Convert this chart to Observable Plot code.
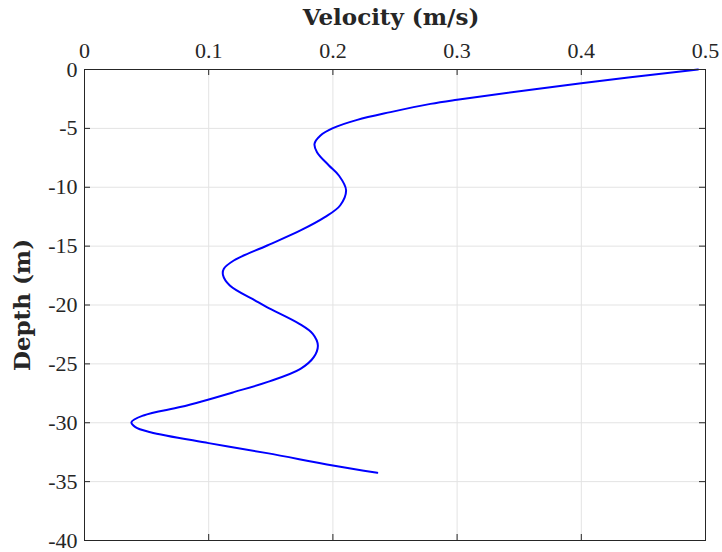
<!DOCTYPE html>
<html><head><meta charset="utf-8">
<script src="https://cdn.jsdelivr.net/npm/d3@7"></script>
<script src="https://cdn.jsdelivr.net/npm/@observablehq/plot@0.6"></script>
<style>body{margin:0;background:#fff}</style>
</head><body><div id="chart"></div>
<script>
const depth = [0, -1.16, -2.57, -2.92, -3.62, -4.28, -4.98, -5.6, -6.31, -7.02, -8.15, -9.0, -10.25, -11.55, -12.54, -13.67, -14.95, -16.22, -16.93, -17.45, -18.34, -19.62, -20.18, -21.6, -22.45, -23.44, -24.43, -25.42, -26.55, -27.4, -28.17, -28.67, -29.38, -29.95, -30.37, -30.8, -31.73, -32.58, -33.63, -34.25];
const velocity = [0.494, 0.4, 0.3, 0.2786, 0.2464, 0.2196, 0.2, 0.19, 0.1852, 0.1872, 0.1968, 0.2048, 0.2106, 0.2058, 0.1935, 0.1739, 0.1471, 0.1202, 0.1122, 0.1115, 0.117, 0.1375, 0.1468, 0.173, 0.1838, 0.1879, 0.1846, 0.1739, 0.147, 0.1202, 0.095, 0.077, 0.0475, 0.0378, 0.041, 0.0531, 0.1, 0.147, 0.2, 0.2357];
const xTicks = [0, 0.1, 0.2, 0.3, 0.4, 0.5];
const yTicks = [0, -5, -10, -15, -20, -25, -30, -35, -40];
const xLabel = "Velocity (m/s)";
const yLabel = "Depth (m)";

const data = depth.map((d, i) => ({d, v: velocity[i]}));
const W = 722, H = 552, mL = 84, mR = 17, mT = 69, mB = 12;
const fw = W - mL - mR, fh = H - mT - mB;
const ink = "#262626", grid = "#e3e3e3", tk = 6;
const font = "'Liberation Serif', 'Times New Roman', serif";
const labelFont = "'DejaVu Serif', serif";

const chart = Plot.plot({
  width: W, height: H,
  marginLeft: mL, marginRight: mR, marginTop: mT, marginBottom: mB,
  style: {fontFamily: font, fontSize: "22px", color: ink, background: "#fff"},
  x: {domain: [0, 0.5]},
  y: {domain: [-40, 0]},
  marks: [
    Plot.gridX(xTicks, {stroke: grid, strokeOpacity: 1}),
    Plot.gridY(yTicks, {stroke: grid, strokeOpacity: 1}),
    Plot.line(data, {x: "v", y: "d", stroke: "#0000ff", strokeWidth: 2, curve: "catmull-rom"}),
    Plot.tickX(xTicks, {x: d => d, insetBottom: fh - tk, stroke: ink}),
    Plot.tickX(xTicks, {x: d => d, insetTop: fh - tk, stroke: ink}),
    Plot.tickY(yTicks, {y: d => d, insetRight: fw - tk, stroke: ink}),
    Plot.tickY(yTicks, {y: d => d, insetLeft: fw - tk, stroke: ink}),
    Plot.frame({stroke: ink}),
    Plot.axisX(xTicks, {anchor: "top", tickSize: 0, tickPadding: 12, label: null, tickFormat: d => String(d), fill: ink}),
    Plot.axisY(yTicks, {anchor: "left", tickSize: 0, tickPadding: 7, label: null, tickFormat: d => String(d), fill: ink}),
    Plot.text([xLabel], {frameAnchor: "top", textAnchor: "middle", lineAnchor: "middle", dx: -4, dy: -52, text: d => d, fontFamily: labelFont, fontWeight: "bold", fontSize: 23, fill: ink}),
    Plot.text([yLabel], {frameAnchor: "left", textAnchor: "middle", lineAnchor: "middle", dx: -62, rotate: -90, text: d => d, fontFamily: labelFont, fontWeight: "bold", fontSize: 23, fill: ink})
  ]
});
document.getElementById("chart").appendChild(chart);
</script>
</body></html>
